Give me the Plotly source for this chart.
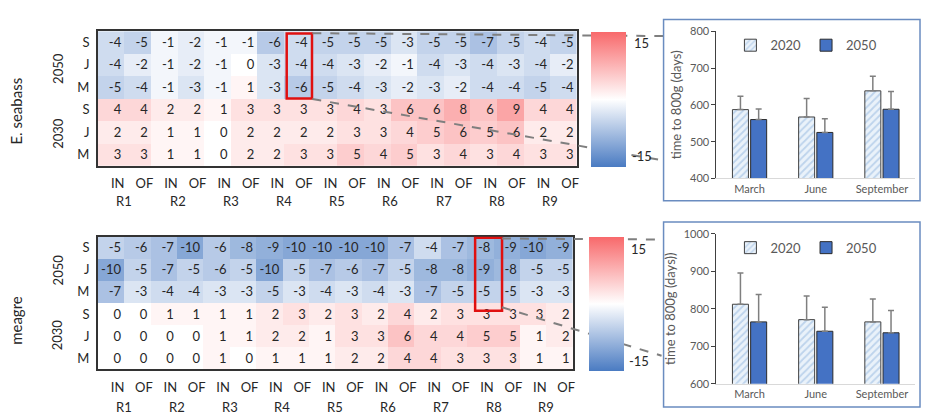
import plotly.graph_objects as go

W, H = 927, 415

# ---- heat-map data: change in days, rows = 2050 S/J/M then 2030 S/J/M ----
regions = ["R1", "R2", "R3", "R4", "R5", "R6", "R7", "R8", "R9"]
sites = ["IN", "OF"] * 9
row_labels = ["S", "J", "M", "S", "J", "M"]

seabass_2050_S = [-4, -5, -1, -2, -1, -1, -6, -4, -5, -5, -5, -3, -5, -5, -7, -5, -4, -5]
seabass_2050_J = [-4, -2, -1, -2, -1, 0, -3, -4, -4, -3, -2, -1, -4, -3, -4, -3, -4, -2]
seabass_2050_M = [-5, -4, -1, -3, -1, 1, -3, -6, -5, -4, -3, -2, -3, -2, -4, -4, -5, -4]
seabass_2030_S = [4, 4, 2, 2, 1, 3, 3, 3, 3, 4, 3, 6, 6, 8, 6, 9, 4, 4]
seabass_2030_J = [2, 2, 1, 1, 0, 2, 2, 2, 2, 3, 3, 4, 5, 6, 5, 6, 2, 2]
seabass_2030_M = [3, 3, 1, 1, 0, 2, 2, 3, 3, 5, 4, 5, 3, 4, 3, 4, 3, 3]

meagre_2050_S = [-5, -6, -7, -10, -6, -8, -9, -10, -10, -10, -10, -7, -4, -7, -8, -9, -10, -9]
meagre_2050_J = [-10, -5, -7, -5, -6, -5, -10, -5, -7, -6, -7, -5, -8, -8, -9, -8, -5, -5]
meagre_2050_M = [-7, -3, -4, -4, -3, -3, -5, -3, -4, -3, -4, -3, -7, -5, -5, -5, -3, -3]
meagre_2030_S = [0, 0, 1, 1, 1, 1, 2, 3, 2, 3, 2, 4, 2, 3, 3, 3, 3, 2]
meagre_2030_J = [0, 0, 0, 0, 1, 1, 2, 2, 1, 3, 3, 6, 4, 4, 5, 5, 1, 2]
meagre_2030_M = [0, 0, 0, 0, 1, 0, 1, 1, 1, 2, 2, 4, 4, 3, 3, 3, 1, 1]

seabass_rows = [seabass_2050_S, seabass_2050_J, seabass_2050_M,
                seabass_2030_S, seabass_2030_J, seabass_2030_M]
meagre_rows = [meagre_2050_S, meagre_2050_J, meagre_2050_M,
               meagre_2030_S, meagre_2030_J, meagre_2030_M]

# ---- bar data: time to 800 g (days), mean and upper error ----
months = ["March", "June", "September"]
seabass_2020 = [587, 567, 638]
seabass_2020_err = [36, 50, 40]
seabass_2050 = [560, 525, 588]
seabass_2050_err = [29, 37, 48]
meagre_2020 = [812, 771, 765]
meagre_2020_err = [83, 63, 61]
meagre_2050 = [765, 740, 736]
meagre_2050_err = [73, 64, 59]

FONT = "Lato, Carlito, Calibri, sans-serif"
TXT = "#262626"
GREY = "#595959"
colorscale = [[0.0, "#4A7BC2"], [0.5, "#FFFFFF"], [1.0, "#F8696B"]]


def px(x):
    return x / W


def py(y):
    return 1 - y / H


fig = go.Figure()
ncol = len(sites)
cols = list(range(ncol))


def add_heatmap(rows, xa, ya, cb_x, cb_y, cb_len):
    fig.add_trace(go.Heatmap(
        z=rows, x=cols, y=list(range(6)), xaxis=xa, yaxis=ya,
        colorscale=colorscale, zmin=-15, zmax=15, hoverinfo="skip",
        colorbar=dict(x=cb_x, xanchor="left", y=cb_y, yanchor="middle",
                      len=cb_len, lenmode="pixels", thickness=35,
                      thicknessmode="pixels", outlinewidth=0,
                      xpad=0, ypad=0,
                      showticklabels=False, ticks=""),
    ))
    # cell values, right-aligned inside each cell
    xs, ys, ts = [], [], []
    for r, row in enumerate(rows):
        for c, v in enumerate(row):
            xs.append(c + 0.38)
            ys.append(r + 0.06)
            ts.append(str(v))
    fig.add_trace(go.Scatter(
        x=xs, y=ys, text=ts, mode="text", textposition="middle left",
        textfont=dict(family=FONT, size=13, color=TXT),
        xaxis=xa, yaxis=ya, showlegend=False, hoverinfo="skip"))


add_heatmap(seabass_rows, "x", "y", px(592), py(95.5), 135)
add_heatmap(meagre_rows, "x2", "y2", px(590), py(307), 134)


def add_bars(v20, e20, v50, e50, xa, ya, legend):
    err_style = dict(type="data", symmetric=False, color="#7F7F7F",
                     thickness=1.5, width=3)
    fig.add_trace(go.Bar(
        x=months, y=v20, name="2020", xaxis=xa, yaxis=ya, legend=legend,
        marker=dict(color="#DDEBF7", line=dict(color="#404040", width=1),
                    pattern=dict(shape="/", fgcolor="#8FB4DE",
                                 bgcolor="#EAF2FA", size=5, solidity=0.35)),
        error_y=dict(array=e20, arrayminus=[0] * len(e20), **err_style)))
    fig.add_trace(go.Bar(
        x=months, y=v50, name="2050", xaxis=xa, yaxis=ya, legend=legend,
        marker=dict(color="#4472C4", line=dict(color="#2B2B2B", width=1)),
        error_y=dict(array=e50, arrayminus=[0] * len(e50), **err_style)))


add_bars(seabass_2020, seabass_2020_err, seabass_2050, seabass_2050_err,
         "x3", "y3", "legend")
add_bars(meagre_2020, meagre_2020_err, meagre_2050, meagre_2050_err,
         "x4", "y4", "legend2")

heat_x = dict(
    range=[-0.5, ncol - 0.5], tickvals=[c + 0.25 for c in cols],
    ticktext=sites, ticks="outside", ticklen=5,
    tickcolor="rgba(0,0,0,0)", showline=True, mirror=True,
    linecolor="#333333", linewidth=1.5, showgrid=False, zeroline=False,
    tickfont=dict(family=FONT, size=13, color=TXT), fixedrange=True)
heat_y = dict(
    range=[5.5, -0.5], tickvals=list(range(6)), ticktext=row_labels,
    ticks="outside", ticklen=4, tickcolor="rgba(0,0,0,0)",
    showline=True, mirror=True, linecolor="#333333", linewidth=1.5,
    showgrid=False, zeroline=False,
    tickfont=dict(family=FONT, size=13, color=TXT), fixedrange=True)


def bar_y(lo, hi, title):
    return dict(
        range=[lo, hi], dtick=100, showline=True, linecolor="#404040",
        linewidth=1, ticks="outside", ticklen=4, tickcolor="#404040",
        showgrid=False, zeroline=False,
        tickfont=dict(family=FONT, size=11, color=GREY),
        title=dict(text=title, font=dict(family=FONT, size=13, color=GREY),
                   standoff=5), fixedrange=True)


bar_x = dict(showline=True, linecolor="#D9D9D9", linewidth=1, ticks="",
             tickfont=dict(family=FONT, size=11, color=GREY), fixedrange=True)

legend_style = dict(orientation="h", x=px(732), xanchor="left",
                    yanchor="top", font=dict(family=FONT, size=13, color=GREY),
                    itemwidth=30, bgcolor="rgba(0,0,0,0)", tracegroupgap=0)

fig.update_layout(
    width=W, height=H, autosize=False,
    margin=dict(l=0, r=0, t=0, b=0),
    paper_bgcolor="white", plot_bgcolor="white",
    font=dict(family=FONT, color=TXT),
    barmode="group", bargap=0.45, bargroupgap=0.12,
    xaxis=dict(domain=[px(98), px(578)], anchor="y", **heat_x),
    yaxis=dict(domain=[py(164), py(25)], anchor="x", **heat_y),
    xaxis2=dict(domain=[px(98), px(574)], anchor="y2", **heat_x),
    yaxis2=dict(domain=[py(374), py(237)], anchor="x2", **heat_y),
    xaxis3=dict(domain=[px(718), px(917)], anchor="y3", **bar_x),
    yaxis3=dict(domain=[py(177), py(25)], anchor="x3",
                **bar_y(400, 800, "time to 800g (days)")),
    xaxis4=dict(domain=[px(718), px(917)], anchor="y4", **bar_x),
    yaxis4=dict(domain=[py(389), py(234)], anchor="x4",
                **bar_y(600, 1000, "time to 800g (days))")),
    legend=dict(y=py(24), **legend_style),
    legend2=dict(y=py(233), **legend_style),
)

annotations = []
# region labels under each IN/OF pair
for i, reg in enumerate(regions):
    for xa, ycen in (("x", 200), ("x2", 413)):
        annotations.append(dict(
            x=2 * i + 0.5, xref=xa, y=py(ycen), yref="paper", text=reg,
            showarrow=False, font=dict(family=FONT, size=13, color=TXT),
            xanchor="center", yanchor="middle"))
# year and species labels
for text, x, y, size in (("2050", 58, 63, 13), ("2030", 58, 130, 13),
                         ("E. seabass", 16, 107, 15),
                         ("2050", 58, 271, 13), ("2030", 58, 338, 13),
                         ("meagre", 16, 323, 15)):
    annotations.append(dict(
        x=px(x), y=py(y), xref="paper", yref="paper", text=text,
        textangle=-90, showarrow=False, xanchor="center", yanchor="middle",
        font=dict(family=FONT, size=size, color=TXT)))
# colour-bar end labels
for text, x, y in (("15", 643, 37), ("-15", 643, 154),
                   ("15", 640, 250), ("-15", 640, 365)):
    annotations.append(dict(
        x=px(x), y=py(y), xref="paper", yref="paper", text=text,
        showarrow=False, xanchor="center", yanchor="middle",
        font=dict(family=FONT, size=13, color=TXT)))
fig.update_layout(annotations=annotations)

shapes = []
# highlighted columns
shapes.append(dict(type="rect", xref="x", yref="y", x0=6.6, x1=7.55,
                   y0=-0.4, y1=2.5, line=dict(color="#E01010", width=2.5)))
shapes.append(dict(type="rect", xref="x2", yref="y2", x0=13.8, x1=14.82,
                   y0=-0.45, y1=2.85, line=dict(color="#E01010", width=2.5)))
# zoom guide lines towards the bar panels
for (x0, y0, x1, y1) in ((313, 27, 665, 30), (313, 95, 662, 158),
                         (503, 239, 665, 240), (503, 310, 663, 360)):
    shapes.append(dict(type="line", xref="paper", yref="paper",
                       x0=px(x0), y0=py(y0), x1=px(x1), y1=py(y1),
                       line=dict(color="#7F7F7F", width=2, dash="dash"),
                       layer="above"))
# bar panel frames
for (x0, y0, x1, y1) in ((665, 13, 922, 200), (665, 222, 922, 413)):
    shapes.append(dict(type="rect", xref="paper", yref="paper",
                       x0=px(x0), y0=py(y0), x1=px(x1), y1=py(y1),
                       line=dict(color="#6A8CC0", width=1.5)))
fig.update_layout(shapes=shapes)

fig.write_html("out.html")
